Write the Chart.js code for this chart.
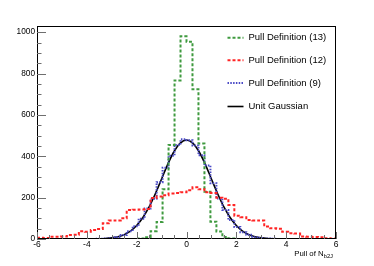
<!DOCTYPE html>
<html>
<head>
<meta charset="utf-8">
<script src="https://cdn.jsdelivr.net/npm/chart.js@4/dist/chart.umd.min.js"></script>
<style>
html,body{margin:0;padding:0;background:#fff;}
canvas{display:block;}
</style>
</head>
<body>
<canvas id="c" width="374" height="266"></canvas>
<script>
// Histogram binning (50 bins from -6 to 6)
const xMin = -6, xMax = 6, nBins = 50;
const xTickValues = [-6, -4, -2, 0, 2, 4, 6];
const xTickLabels = ['-6', '-4', '-2', '0', '2', '4', '6'];
const yTickValues = [0, 200, 400, 600, 800, 1000];
const yTickLabels = ['0', '200', '400', '600', '800', '1000'];
const legendLabels = ['Pull Definition (13)', 'Pull Definition (12)', 'Pull Definition (9)', 'Unit Gaussian'];
const xTitle = 'Pull of N';
const xTitleSub = 'b2J';

// Pull Definition (13)
const pull13 = [0,0,0,0,0,0,0,0,0,0, 0,0,0,0,0,0,0,2,9,38,
                82,240,455,767,980,954,724,462,229,84, 36,10,3,0,0,0,0,0,0,0,
                0,0,0,0,0,0,0,0,0,0];
// Pull Definition (12)
const pull12 = [6,5,11,11,12,19,20,37,35,43, 48,76,89,90,100,140,142,143,145,198,
                205,212,220,222,226,236,250,240,226,222, 200,195,164,112,105,92,90,89,60,52,
                50,35,28,26,12,11,10,9,4,3];
// Pull Definition (9)
const pull9 = [0,0,0,0,0,0,0,0,0,0, 1,2,4,10,19,38,62,98,148,195,
               275,345,402,455,482,478,452,405,355,270, 196,140,92,58,33,20,9,5,2,1,
               0,0,0,0,0,0,0,0,0,0];
// Unit Gaussian curve
const gaussX = [-4,-3.75,-3.5,-3.25,-3,-2.75,-2.5,-2.25,-2,-1.75,-1.5,-1.25,-1,-0.75,-0.5,-0.25,0,
                0.25,0.5,0.75,1,1.25,1.5,1.75,2,2.25,2.5,2.75,3,3.25,3.5,3.75,4];
const gaussY = [0.2,0.4,1,2.4,5.3,10.9,21,38,65,104,155,219,290,362,423,464,479,
                464,423,362,290,219,155,104,65,38,21,10.9,5.3,2.4,1,0.4,0.2];

const binW = (xMax - xMin) / nBins;
function histPoints(vals) {
  const pts = vals.map((v, i) => ({x: xMin + i * binW, y: v}));
  pts.push({x: xMax, y: vals[vals.length - 1]});
  return pts;
}

const colors = ['#3f9a3f', '#ff2424', '#4a4ac6', '#000000'];
const dashes = [[3, 2], [3, 2], [1.5, 1.3], []];
const widths = [2, 2, 2, 1.6];

const FONT = 'Liberation Sans, Arial, Helvetica, sans-serif';

const decorPlugin = {
  id: 'decor',
  afterDatasetsDraw(chart) {
    const ctx = chart.ctx;
    const a = chart.chartArea;
    const xs = chart.scales.x, ys = chart.scales.y;
    ctx.save();
    // frame
    ctx.strokeStyle = '#000';
    ctx.lineWidth = 1;
    ctx.setLineDash([]);
    ctx.strokeRect(Math.round(a.left) + 0.5, Math.round(a.top) + 0.5,
                   Math.round(a.right - a.left) - 1, Math.round(a.bottom - a.top) - 1);
    // y ticks
    ctx.strokeStyle = '#6e6e6e';
    ctx.beginPath();
    for (let v = 0; v <= 1030; v += 50) {
      const y = Math.round(ys.getPixelForValue(v)) + 0.5;
      const len = (v % 200 === 0) ? 9 : 4.5;
      ctx.moveTo(a.left, y); ctx.lineTo(a.left + len, y);
    }
    // x ticks
    for (let v = xMin; v <= xMax + 1e-9; v += 0.5) {
      const x = Math.round(xs.getPixelForValue(v)) + 0.5;
      const isMajor = Math.abs(v % 2) < 1e-9;
      const len = isMajor ? 7 : 4;
      ctx.moveTo(x, a.bottom); ctx.lineTo(x, a.bottom - len);
    }
    ctx.stroke();
    // legend
    const rowsY = [37.7, 60.3, 83, 106.5];
    const lx0 = 227.5, lx1 = 243.5, tx = 248.5;
    for (let i = 0; i < 4; i++) {
      ctx.beginPath();
      ctx.strokeStyle = colors[i];
      ctx.lineWidth = widths[i];
      ctx.setLineDash(dashes[i]);
      ctx.moveTo(lx0, rowsY[i]); ctx.lineTo(lx1, rowsY[i]);
      ctx.stroke();
      ctx.setLineDash([]);
      ctx.fillStyle = '#000';
      ctx.font = '9.5px ' + FONT;
      ctx.textBaseline = 'middle';
      ctx.textAlign = 'left';
      ctx.fillText(legendLabels[i], tx, rowsY[i]);
    }
    // x axis title
    ctx.fillStyle = '#000';
    ctx.textBaseline = 'alphabetic';
    ctx.textAlign = 'left';
    ctx.font = '5.8px ' + FONT;
    const subW = ctx.measureText(xTitleSub).width;
    ctx.font = '7.8px ' + FONT;
    const mainW = ctx.measureText(xTitle).width;
    const endX = 333;
    const startX = endX - subW - mainW;
    ctx.fillText(xTitle, startX, 255.5);
    ctx.font = '5.8px ' + FONT;
    ctx.fillText(xTitleSub, startX + mainW, 257.5);
    ctx.restore();
  }
};

new Chart(document.getElementById('c'), {
  type: 'line',
  data: {
    datasets: [
      {label: legendLabels[1], data: histPoints(pull12), stepped: true, borderColor: colors[1], borderWidth: widths[1], borderDash: dashes[1], pointRadius: 0, fill: false},
      {label: legendLabels[0], data: histPoints(pull13), stepped: true, borderColor: colors[0], borderWidth: widths[0], borderDash: dashes[0], pointRadius: 0, fill: false},
      {label: legendLabels[2], data: histPoints(pull9), stepped: true, borderColor: colors[2], borderWidth: widths[2], borderDash: dashes[2], pointRadius: 0, fill: false},
      {label: legendLabels[3], data: gaussX.map((x, i) => ({x: x, y: gaussY[i]})), borderColor: colors[3], borderWidth: widths[3], pointRadius: 0, fill: false, cubicInterpolationMode: 'monotone'}
    ]
  },
  options: {
    responsive: false,
    animation: false,
    events: [],
    layout: {padding: {left: 0, top: 26, right: 38, bottom: 0}},
    plugins: {legend: {display: false}, tooltip: {enabled: false}, title: {display: false}},
    scales: {
      x: {
        type: 'linear', min: xMin, max: xMax,
        grid: {display: false, drawTicks: false},
        border: {display: false},
        afterBuildTicks: s => { s.ticks = xTickValues.map(v => ({value: v})); },
        afterFit: s => { s.height = 27; },
        ticks: {
          padding: 1,
          color: '#000',
          font: {family: FONT, size: 8.5},
          maxRotation: 0,
          autoSkip: false,
          callback: (v) => { const i = xTickValues.indexOf(v); return i >= 0 ? xTickLabels[i] : ''; }
        }
      },
      y: {
        type: 'linear', min: 0, max: 1030,
        grid: {display: false, drawTicks: false},
        border: {display: false},
        afterBuildTicks: s => { s.ticks = yTickValues.map(v => ({value: v})); },
        afterFit: s => { s.width = 37; },
        ticks: {
          padding: 2,
          color: '#000',
          font: {family: FONT, size: 8.3},
          autoSkip: false,
          callback: (v) => { const i = yTickValues.indexOf(v); return i >= 0 ? yTickLabels[i] : ''; }
        }
      }
    }
  },
  plugins: [decorPlugin]
});
</script>
</body>
</html>
